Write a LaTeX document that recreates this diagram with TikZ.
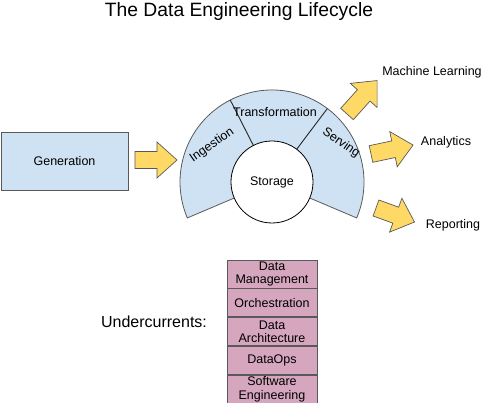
\documentclass[tikz,border=0pt]{standalone}
\usepackage{fontspec}
\setmainfont{Liberation Sans}
\usetikzlibrary{positioning}
\definecolor{ringblue}{HTML}{CFE2F3}
\definecolor{flowyellow}{HTML}{FFD966}
\definecolor{undermauve}{HTML}{D5A6BD}
\definecolor{edgegray}{HTML}{595959}
\tikzset{
  pics/flow/.style={code={
    \draw[flowarrow] (0,-8.5) -- ({#1-20},-8.5) -- ({#1-20},-18) -- (#1,0)
      -- ({#1-20},18) -- ({#1-20},8.5) -- (0,8.5) -- cycle;
  }},
}
\begin{document}
\begin{tikzpicture}[x=1pt,y=1pt,
    plain/.style={font=\fontsize{12.5}{13.5}\selectfont},
    titletext/.style={font=\fontsize{19.3}{22}\selectfont},
    flowarrow/.style={draw=edgegray,fill=flowyellow,line width=0.7pt,line join=miter},
    genbox/.style={draw=edgegray,fill=ringblue,line width=0.8pt,minimum width=127pt,minimum height=58pt,plain},
    ringline/.style={draw=edgegray,line width=0.8pt},
    divider/.style={draw=black!85,line width=0.9pt},
    store/.style={circle,draw=black,fill=white,line width=0.8pt,minimum size=82pt,inner sep=0pt,plain},
    under/.style={draw=edgegray,fill=undermauve,line width=0.8pt,minimum width=90pt,minimum height=28pt,inner sep=0pt,align=center,plain}]
  \useasboundingbox (0,0) rectangle (482,402);
  \node[titletext,anchor=base] (ttl) at (239,385) {The Data Engineering Lifecycle};
  \node[genbox] (gen) at (64.5,241) {Generation};
  \pic at (135,242) {flow=42};
  \begin{scope}[shift={(272,220)}]
    \draw[ringline,fill=ringblue] (-23:41) -- (-23:92) arc[start angle=-23,end angle=203,radius=92] -- (203:41);
    \draw[divider] (53:41) -- (53:92);
    \draw[divider] (117:41) -- (117:92);
    \node[plain,rotate=35] (ing) at (-60,37) {Ingestion};
    \node[plain] (trans) at (3,70) {Transformation};
    \node[plain,rotate=-35] (serv) at (69,39) {Serving};
    \node[store] (stor) at (0,0) {Storage};
  \end{scope}
  \pic[rotate=48] at (347,288) {flow=45};
  \pic[rotate=12] at (371,248) {flow=43};
  \pic[rotate=-20] at (376,194) {flow=41};
  \node[plain] (ml) at (432,330) {Machine Learning};
  \node[plain] (ana) at (446,260) {Analytics};
  \node[plain] (rep) at (453,177) {Reporting};
  \node[font=\fontsize{16}{18}\selectfont] (uc) at (154,80) {Undercurrents:};
  \node[under] (mgmt) at (272,128) {Data\\Management};
  \node[under,below=0pt of mgmt] (orch) {Orchestration};
  \node[under,below=0pt of orch] (arch) {Data\\Architecture};
  \node[under,below=0pt of arch] (ops) {DataOps};
  \node[under,below=0pt of ops] (soft) {Software\\Engineering};
\end{tikzpicture}
\end{document}
